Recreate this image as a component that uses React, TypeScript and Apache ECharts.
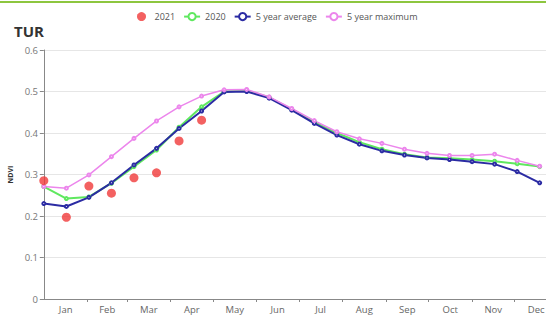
import React, { useEffect, useRef } from "react";
import * as echarts from "echarts";

const MONTHS = ["Jan", "Feb", "Mar", "Apr", "May", "Jun", "Jul", "Aug", "Sep", "Oct", "Nov", "Dec"];
const MONTH_START_DAYS = [0, 31, 59, 90, 120, 151, 181, 212, 243, 273, 304, 334, 365];
// day-of-year (0-based) of each 16-day composite
const COMPOSITE_DAYS = [0, 16, 32, 48, 64, 80, 96, 112, 128, 144, 160, 176, 192, 208, 224, 240, 256, 272, 288, 304, 320, 336, 352];

const NDVI_2021 = [0.285, 0.197, 0.272, 0.255, 0.292, 0.304, 0.381, 0.431];
const NDVI_2020 = [0.271, 0.242, 0.246, 0.279, 0.319, 0.359, 0.414, 0.463, 0.5, 0.502, 0.486, 0.457, 0.427, 0.4, 0.378, 0.361, 0.349, 0.341, 0.339, 0.336, 0.332, 0.326, 0.319];
const NDVI_AVG5 = [0.23, 0.223, 0.245, 0.28, 0.323, 0.363, 0.411, 0.453, 0.499, 0.5, 0.484, 0.455, 0.423, 0.395, 0.373, 0.357, 0.347, 0.34, 0.336, 0.331, 0.325, 0.307, 0.28];
const NDVI_MAX5 = [0.271, 0.267, 0.299, 0.343, 0.387, 0.429, 0.463, 0.489, 0.504, 0.505, 0.487, 0.459, 0.43, 0.403, 0.386, 0.375, 0.361, 0.351, 0.346, 0.346, 0.349, 0.334, 0.32];

const Y_TICKS = [0, 0.1, 0.2, 0.3, 0.4, 0.5, 0.6];

const pair = (vals: number[]) => vals.map((v, i) => [COMPOSITE_DAYS[i], v]);

export default function App() {
  const ref = useRef<HTMLDivElement>(null);
  useEffect(() => {
    if (!ref.current) return;
    const chart = echarts.init(ref.current, undefined, { renderer: "svg" });
    const font = "'Open Sans', 'Noto Sans', sans-serif";
    const monthMids = MONTHS.map((_, i) => (MONTH_START_DAYS[i] + MONTH_START_DAYS[i + 1]) / 2);
    const lineSeries = (name: string, data: number[], color: string, width: number) => ({
      name,
      type: "line",
      data: pair(data),
      symbol: "emptyCircle",
      symbolSize: 3,
      showSymbol: true,
      lineStyle: { color, width },
      itemStyle: { color, borderWidth: 1 },
    });
    chart.setOption({
      animation: false,
      textStyle: { fontFamily: font },
      graphic: [
        { type: "rect", shape: { x: 0, y: 1, width: 546, height: 2 }, style: { fill: "#8dc63f" } },
      ],
      title: {
        text: "TUR",
        left: 9,
        top: 18,
        textStyle: { fontSize: 15, fontWeight: "bold", color: "#333", fontFamily: font },
      },
      legend: {
        top: 7,
        left: 132,
        itemWidth: 16,
        itemHeight: 9,
        itemGap: 8,
        textStyle: { fontSize: 9, color: "#555", fontFamily: font },
        data: ["2021", "2020", "5 year average", "5 year maximum"],
      },
      grid: { left: 41, top: 50, height: 249, width: 517, outerBoundsMode: "none", containLabel: false },
      xAxis: {
        type: "value",
        min: -2,
        max: 365,
        splitLine: { show: false },
        axisLine: { show: true, lineStyle: { color: "#888" } },
        axisTick: {
          show: true,
          length: 3,
          lineStyle: { color: "#888" },
          customValues: MONTH_START_DAYS.slice(1, 12),
        },
        axisLabel: {
          customValues: monthMids,
          formatter: (v: number) => {
            const idx = monthMids.findIndex((m) => Math.abs(m - v) < 0.01);
            return idx >= 0 ? MONTHS[idx] : "";
          },
          fontSize: 9.5,
          color: "#666",
          margin: 5,
          fontFamily: font,
        },
      },
      yAxis: {
        type: "value",
        min: Y_TICKS[0],
        max: Y_TICKS[Y_TICKS.length - 1],
        interval: 0.1,
        name: "NDVI",
        nameLocation: "middle",
        nameGap: 24,
        nameTextStyle: { fontSize: 7, fontWeight: "bold", color: "#333", fontFamily: font },
        axisLine: { show: true, lineStyle: { color: "#888" } },
        axisTick: { show: true, length: 4, lineStyle: { color: "#888" } },
        axisLabel: {
          fontSize: 9.5,
          color: "#777",
          margin: 3,
          fontFamily: font,
          formatter: (v: number) => (v === 0 ? "0" : v.toFixed(1)),
        },
        splitLine: { show: true, lineStyle: { color: "#e6e6e6" } },
      },
      series: [
        {
          name: "2021",
          type: "scatter",
          data: pair(NDVI_2021),
          symbol: "circle",
          symbolSize: 9,
          itemStyle: { color: "#f03a3a" },
          z: 5,
        },
        lineSeries("2020", NDVI_2020, "#5fe85f", 2),
        lineSeries("5 year average", NDVI_AVG5, "#2b2ba3", 2),
        lineSeries("5 year maximum", NDVI_MAX5, "#ec86ec", 1.5),
      ],
    });
    return () => chart.dispose();
  }, []);
  return (
    <div
      ref={ref}
      style={{ position: "fixed", left: 0, top: 0, width: 546, height: 320, background: "#fff" }}
    />
  );
}
